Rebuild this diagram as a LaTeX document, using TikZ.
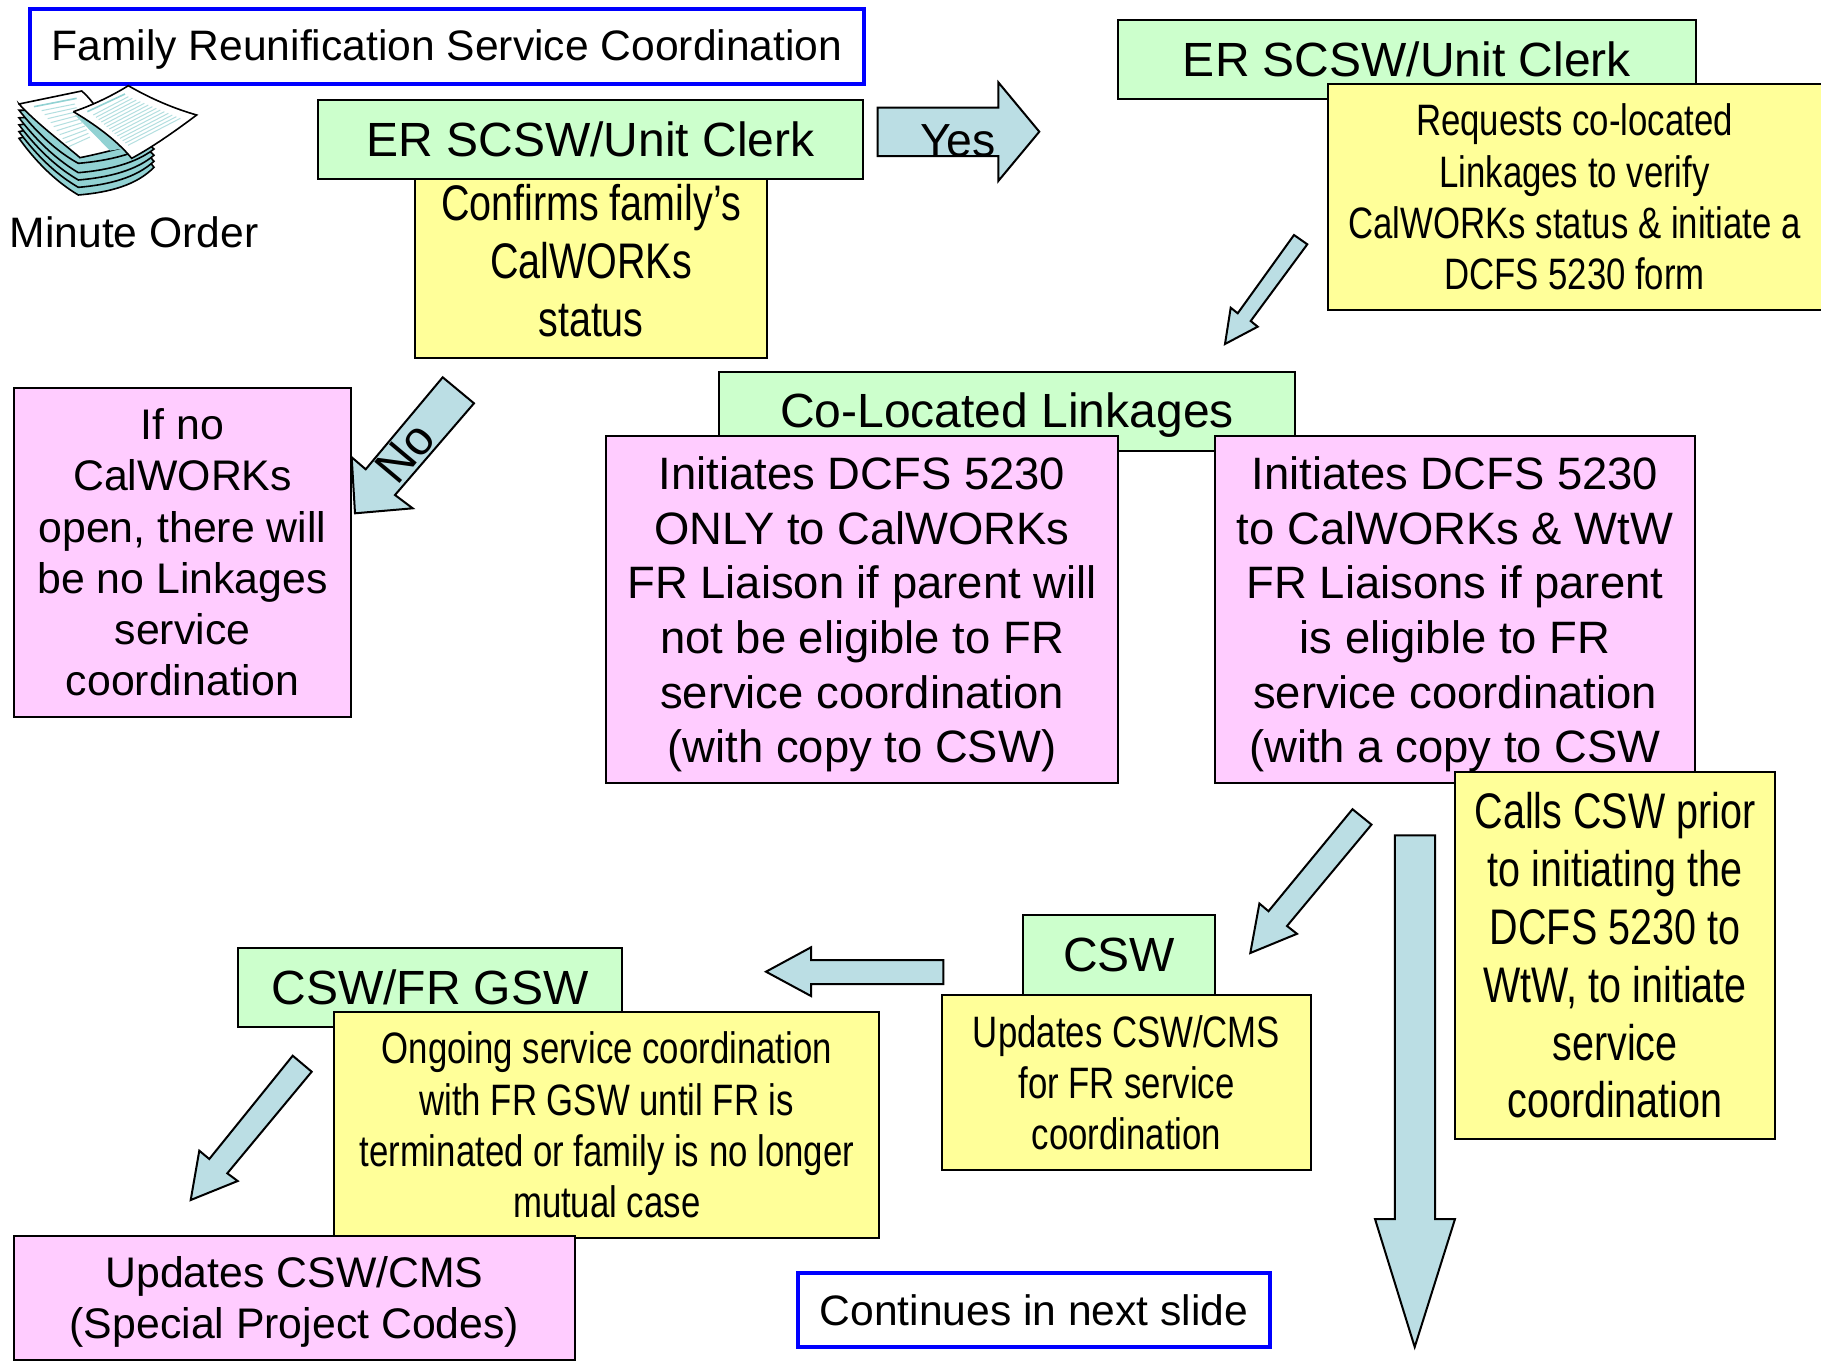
\documentclass[tikz,border=0pt]{standalone}
\usepackage{fontspec}
\setmainfont{Liberation Sans}
\newfontfamily\narrowfont[FakeStretch=0.79]{Liberation Sans}
\definecolor{boxgreen}{HTML}{CCFFCC}
\definecolor{boxyellow}{HTML}{FFFF99}
\definecolor{boxpink}{HTML}{FFCCFF}
\definecolor{arrowblue}{HTML}{BBDEE4}
\definecolor{paperteal}{HTML}{92D2D3}
\tikzset{
  plainbox/.style={draw=black,line width=1pt,inner sep=0pt,align=center},
  greenbox/.style={plainbox,fill=boxgreen,font=\fontsize{24}{28}\selectfont},
  pinkbox/.style={plainbox,fill=boxpink,font=\fontsize{21.4}{25.6}\selectfont},
  bigpinkbox/.style={pinkbox,font=\fontsize{22.7}{27.3}\selectfont},
  yellowbox/.style={plainbox,fill=boxyellow,font=\narrowfont\fontsize{22}{25.6}\selectfont},
  bigyellowbox/.style={yellowbox,font=\narrowfont\fontsize{25}{28.9}\selectfont},
  bluebox/.style={draw=blue,line width=1.7pt,fill=white,inner sep=0pt,font=\fontsize{21.3}{25}\selectfont},
  blockarrow/.style={draw=black,line width=1pt,fill=arrowblue,line join=miter},
  paper/.style={draw=black,line width=.8pt,fill=white},
  textdown/.style={execute at begin node=\rule{0pt}{#1}},
  textup/.style={execute at end node=\rule[-#1]{0pt}{0pt}}
}
\begin{document}
\begin{tikzpicture}[x=.5pt,y=-.5pt]
  \useasboundingbox (0,0) rectangle (1821,1366);
  % header
  \node[bluebox,textdown=18pt,minimum width=417pt,minimum height=37.5pt] (title) at (447,46.5) {Family Reunification Service Coordination};
  % stack of papers
  \begin{scope}[shift={(10,80)},scale=1/3]
    \foreach \off/\tip in {112/345,90/322,68/300,45/278,20/250}{
      \draw[paper,fill=paperteal] (27,{72+\off*.92}) .. controls (90,{150+\off}) and (150,{200+\off}) .. (205,\tip)
        .. controls (300,{\tip-8}) and (380,{\tip-30}) .. (432,{170+\off*.82}) -- (300,100) -- cycle;
    }
    \draw[paper] (27,72) -- (215,33) .. controls (260,70) and (300,150) .. (330,205)
      .. controls (290,215) and (250,225) .. (210,233) .. controls (160,190) and (80,130) .. cycle;
    \fill[paperteal] (195,105) -- (300,212) -- (340,205) -- (280,130) -- cycle;
    \foreach \t in {0,1,...,9}{
      \draw[paperteal!70,line width=.5pt] ({95+\t*9},{92+\t*12}) -- ({195+\t*5},{72+\t*11});
    }
    \draw[paperteal,line width=.8pt] (72,80) -- (200,55);
    \draw[paper] (190,95) .. controls (250,75) and (310,45) .. (355,17)
      .. controls (420,55) and (490,85) .. (560,105)
      .. controls (500,150) and (430,200) .. (365,235)
      .. controls (320,180) and (250,130) .. cycle;
    \foreach \t in {0,1,...,13}{
      \draw[paperteal!70,line width=.5pt] ({250+\t*8},{105+\t*7}) -- ({355+\t*12},{50+\t*5});
    }
    \draw[paperteal,line width=.8pt] (232,95) -- (345,42);
  \end{scope}
  \node[font=\fontsize{21.3}{25}\selectfont,inner sep=0pt] (minute) at (134,232) {Minute Order};
  % first row
  \node[greenbox,minimum width=272.5pt,minimum height=39.5pt] (clerka) at (590.5,139.5) {ER SCSW/Unit Clerk};
  \node[bigyellowbox,textup=8pt,minimum width=176pt,minimum height=89.5pt] (confirm) at (591,268.5) {Confirms family’s\\CalWORKs\\status};
  \draw[blockarrow] (877.7,107.7) -- (998.3,107.7) -- (998.3,82.3) -- (1039.3,131.7) -- (998.3,181) -- (998.3,156) -- (877.7,156) -- cycle;
  \node[font=\fontsize{23.2}{27}\selectfont,inner sep=0pt] (yes) at (958,141) {Yes};
  \node[greenbox,minimum width=289pt,minimum height=39.5pt] (clerkb) at (1407,59.5) {ER SCSW/Unit Clerk};
  \node[yellowbox,minimum width=247pt,minimum height=113pt] (requests) at (1574.5,197) {Requests co-located\\Linkages to verify\\CalWORKs status \& initiate a\\DCFS 5230 form};
  \draw[blockarrow] (1294,235) -- (1307.3,244.3) -- (1250.7,321) -- (1257.7,326.7) -- (1225,344) -- (1230.7,307.7) -- (1237.7,313.3) -- cycle;
  % no branch
  \node[pinkbox,minimum width=168.5pt,minimum height=164.5pt] (nolink) at (182.5,552.5) {If no\\CalWORKs\\open, there will\\be no Linkages\\service\\coordination};
  \draw[blockarrow] (442.7,377.3) -- (474,403.3) -- (395,495) -- (412.7,508.3) -- (355,513.3) -- (351.7,457.3) -- (365.7,469.3) -- cycle;
  \node[font=\fontsize{24}{28}\selectfont,inner sep=0pt,rotate=50] (no) at (405,453) {No};
  % linkages
  \node[greenbox,textdown=21pt,minimum width=288pt,minimum height=39.5pt] (linkages) at (1007,411.5) {Co-Located Linkages};
  \node[bigpinkbox,minimum width=256pt,minimum height=173.5pt] (initone) at (862,609.5) {\rule{0pt}{21.3pt}Initiates DCFS 5230\\ONLY to CalWORKs\\FR Liaison if parent will\\not be eligible to FR\\service coordination\\(with copy to CSW)};
  \node[bigpinkbox,minimum width=240pt,minimum height=173.5pt] (inittwo) at (1455,609.5) {\rule{0pt}{21.3pt}Initiates DCFS 5230\\to CalWORKs \& WtW\\FR Liaisons if parent\\is eligible to FR\\service coordination\\(with a copy to CSW};
  \node[bigyellowbox,minimum width=160pt,minimum height=183.5pt] (calls) at (1615,955.5) {Calls CSW prior\\to initiating the\\DCFS 5230 to\\WtW, to initiate\\service\\coordination};
  \draw[blockarrow] (1352.5,809.2) -- (1371.5,824.6) -- (1287,926) -- (1297,933.8) -- (1250.3,953) -- (1259.4,903.5) -- (1268.5,911.2) -- cycle;
  \draw[blockarrow] (1394.9,835.4) -- (1435.2,835.4) -- (1435.2,1219) -- (1455,1219) -- (1414.7,1347) -- (1375,1219) -- (1394.9,1219) -- cycle;
  % lower row
  \node[greenbox,minimum width=96pt,minimum height=40pt] (csw) at (1119,955) {CSW};
  \node[yellowbox,minimum width=184.5pt,minimum height=87.5pt] (updcms) at (1126.5,1082.5) {Updates CSW/CMS\\for FR service\\coordination};
  \draw[blockarrow] (943.3,960) -- (943.3,984) -- (811,984) -- (811,996) -- (766,971.7) -- (811,947.3) -- (811,960) -- cycle;
  \node[greenbox,minimum width=192.3pt,minimum height=39.5pt] (frgsw) at (430,987.5) {CSW/FR GSW};
  \node[yellowbox,minimum width=272.3pt,minimum height=113pt] (ongoing) at (606.75,1125) {Ongoing service coordination\\with FR GSW until FR is\\terminated or family is no longer\\mutual case};
  \draw[blockarrow] (292.7,1055.7) -- (311.7,1071.7) -- (227.3,1173.3) -- (237.7,1181) -- (190.7,1200) -- (199.3,1150.7) -- (209.3,1159) -- cycle;
  \node[pinkbox,minimum width=280.5pt,minimum height=62pt] (updcodes) at (294.5,1298) {\rule{0pt}{19.4pt}Updates CSW/CMS\\(Special Project Codes)};
  \node[bluebox,minimum width=236pt,minimum height=37pt] (nextslide) at (1034,1310) {Continues in next slide};
\end{tikzpicture}
\end{document}
